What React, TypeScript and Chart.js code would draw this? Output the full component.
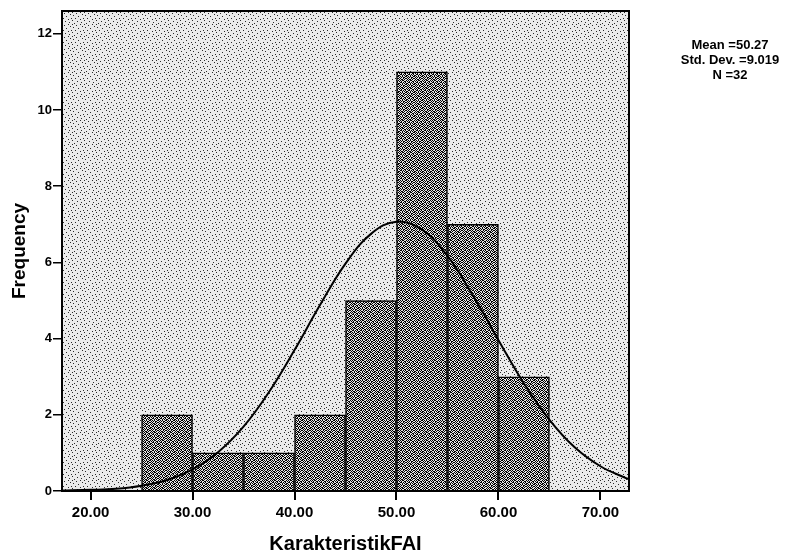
import React, { useEffect, useRef } from "react";
import { Chart, registerables } from "chart.js";

Chart.register(...registerables);

// Histogram bins (lower edge, upper edge) and frequencies
const binStarts = [25, 30, 35, 40, 45, 50, 55, 60];
const binEnds = [30, 35, 40, 45, 50, 55, 60, 65];
const frequencies = [2, 1, 1, 2, 5, 11, 7, 3];

// Normal curve
const curveX = [17.2, 20, 22.5, 25, 27.5, 30, 32.5, 35, 37.5, 40, 42.5, 45, 47.5, 50, 52.5, 55, 57.5, 60, 62.5, 65, 67.5, 70, 72.5, 72.8];
const curveY = [0.01, 0.03, 0.06, 0.14, 0.29, 0.57, 1.02, 1.69, 2.6, 3.7, 4.88, 5.97, 6.75, 7.07, 6.86, 6.17, 5.13, 3.96, 2.82, 1.87, 1.14, 0.65, 0.34, 0.31];

const xTickValues = [20, 30, 40, 50, 60, 70];
const yTickValues = [0, 2, 4, 6, 8, 10, 12];

const statsLines = ["Mean =50.27", "Std. Dev. =9.019", "N =32"];
const xTitle = "KarakteristikFAI";
const yTitle = "Frequency";

function makePattern(base: string, dot: string, size: number, rows: string[]) {
  const c = document.createElement("canvas");
  c.width = size;
  c.height = size;
  const g = c.getContext("2d")!;
  g.fillStyle = base;
  g.fillRect(0, 0, size, size);
  g.fillStyle = dot;
  rows.forEach((r, yy) => {
    for (let xx = 0; xx < r.length; xx++) if (r[xx] === "1") g.fillRect(xx, yy, 1, 1);
  });
  return g.createPattern(c, "repeat")!;
}

const FONT = "'Liberation Sans', Arial, sans-serif";

export default function App() {
  const ref = useRef<HTMLCanvasElement | null>(null);
  useEffect(() => {
    document.body.style.margin = "0";
    document.body.style.background = "#ffffff";
    const canvas = ref.current!;

    const bgPattern = makePattern("#ebebeb", "#2a2a2a", 12, [
      "100000001000",
      "000010000000",
      "000000000010",
      "010000000000",
      "000000100000",
      "000000000000",
      "000100000001",
      "000000001000",
      "100000000000",
      "000001000000",
      "000000000100",
      "001000000000",
    ]);
    const barPattern = makePattern("#e2e2e2", "#000000", 8, [
      "10110010",
      "01001101",
      "11010100",
      "00101011",
      "10100110",
      "01011001",
      "10010110",
      "01101001",
    ]);

    const decor = {
      id: "decor",
      beforeDraw(chart: any) {
        const { ctx, chartArea: a } = chart;
        ctx.save();
        ctx.fillStyle = bgPattern;
        ctx.fillRect(a.left, a.top, a.right - a.left, a.bottom - a.top);
        ctx.restore();
      },
      afterDraw(chart: any) {
        const { ctx, chartArea: a } = chart;
        ctx.save();
        ctx.strokeStyle = "#000";
        ctx.lineWidth = 2;
        ctx.strokeRect(a.left, a.top, a.right - a.left, a.bottom - a.top);
        ctx.fillStyle = "#000";
        ctx.textAlign = "center";
        ctx.textBaseline = "alphabetic";
        ctx.font = `bold 20px ${FONT}`;
        ctx.fillText(xTitle, (a.left + a.right) / 2, 550);
        ctx.save();
        ctx.translate(25, (a.top + a.bottom) / 2);
        ctx.rotate(-Math.PI / 2);
        ctx.font = `bold 19px ${FONT}`;
        ctx.fillText(yTitle, 0, 0);
        ctx.restore();
        ctx.font = `bold 13px ${FONT}`;
        statsLines.forEach((s, i) => ctx.fillText(s, 730, 49 + i * 15));
        ctx.restore();
      },
    };

    const chart = new Chart(canvas, {
      type: "bar",
      data: {
        datasets: [
          {
            type: "line",
            data: curveX.map((x, i) => ({ x, y: curveY[i] })),
            borderColor: "#000",
            borderWidth: 2,
            pointRadius: 0,
            tension: 0.4,
            fill: false,
            order: 0,
          } as any,
          {
            type: "bar",
            data: binStarts.map((s, i) => ({ x: (s + binEnds[i]) / 2, y: frequencies[i] })),
            backgroundColor: barPattern,
            borderColor: "#000",
            borderWidth: 1.5,
            barPercentage: 1,
            categoryPercentage: 1,
            order: 1,
          } as any,
        ],
      },
      options: {
        responsive: false,
        animation: false,
        events: [],
        layout: { padding: { left: 0, right: 161, top: 11, bottom: 0 } },
        plugins: { legend: { display: false }, tooltip: { enabled: false } },
        scales: {
          x: {
            type: "linear",
            min: 17.2,
            max: 72.8,
            offset: false,
            afterFit: (s: any) => { s.height = 68; },
            afterBuildTicks: (s: any) => { s.ticks = xTickValues.map((v) => ({ value: v })); },
            ticks: {
              callback: (v: any) => Number(v).toFixed(2),
              color: "#000",
              font: { size: 15, weight: "bold", family: FONT },
              padding: 4,
              maxRotation: 0,
              autoSkip: false,
            },
            grid: { offset: false, drawOnChartArea: false, drawTicks: true, tickLength: 9, color: "#000", lineWidth: 2 },
            border: { display: true, color: "#000", width: 2 },
          },
          y: {
            type: "linear",
            min: 0,
            max: 12.6,
            afterFit: (s: any) => { s.width = 62; },
            afterBuildTicks: (s: any) => { s.ticks = yTickValues.map((v) => ({ value: v })); },
            ticks: {
              callback: (v: any) => String(v),
              color: "#000",
              font: { size: 13, weight: "bold", family: FONT },
              padding: 1,
              autoSkip: false,
            },
            grid: { offset: false, drawOnChartArea: false, drawTicks: true, tickLength: 9, color: "#000", lineWidth: 1.5 },
            border: { display: true, color: "#000", width: 2 },
          },
        },
      } as any,
      plugins: [decor],
    });
    return () => chart.destroy();
  }, []);

  return (
    <div style={{ width: 790, height: 559 }}>
      <canvas ref={ref} width={790} height={559} style={{ display: "block" }} />
    </div>
  );
}
